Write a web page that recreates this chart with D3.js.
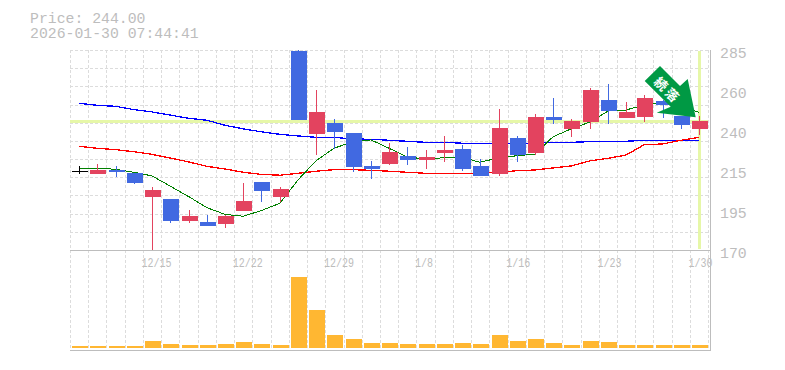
<!DOCTYPE html>
<html>
<head>
<meta charset="utf-8">
<script src="https://cdn.jsdelivr.net/npm/d3@7"></script>
<style>
  html, body { margin: 0; padding: 0; background: #fff; }
  svg { display: block; }
  text { font-family: "Liberation Mono", "DejaVu Sans Mono", monospace; fill: #bdbdbd; }
</style>
</head>
<body>
<div id="chart"></div>
<script>
const dates = ['12/9','12/10','12/11','12/12','12/15','12/16','12/17','12/18','12/19','12/22',
  '12/23','12/24','12/25','12/26','12/29','12/30','1/5','1/6','1/7','1/8',
  '1/9','1/13','1/14','1/15','1/16','1/19','1/20','1/21','1/22','1/23',
  '1/26','1/27','1/28','1/29','1/30'];
const tickDates = ['12/15','12/22','12/29','1/8','1/16','1/23','1/30'];
const priceLabels = ['285','260','240','215','195','170'];

const opens = [215.3,213.7,216,214.3,200.5,199.3,186.7,186.1,185,192.4,209.1,200.5,284.4,236.7,243,237.3,218.3,219.5,224,221.8,225.8,228.1,218.3,213.7,234.4,225.8,246.5,239.6,243.6,256.3,245.9,246.5,255.7,247,239.6];
const closes = [215.3,216,214.8,208.5,204.5,186.7,189.5,183.8,189.5,198.2,203.9,205.1,244.75,249.4,237.9,217.7,216.6,226.4,221.8,223.5,227.5,216.6,212.6,240.2,224.6,246.5,244.8,244.2,262,249.9,249.4,257.4,253.4,241.9,244];
const highs = [218.3,219.4,218.3,214.3,206.2,199.3,193,190.1,190.1,208.5,209.1,206.2,285,262,245.3,237.3,221.2,231.5,229.2,227.5,235.6,230.4,222.3,251.1,235.6,248.2,257.4,245.3,263.2,265.5,255.1,259.1,256,247,247];
const lows = [213.7,213.7,212.2,208,170,185.5,185.5,183.8,182.6,192.4,197.6,197.6,244.75,224.6,228.1,214.9,210.8,218.9,218.9,216.6,220.6,215.4,212.6,212.6,220.6,224.6,242.5,235,239.6,242.5,245.9,243.6,245.9,239.6,236.1];

const maShort = [217,217,216.4,214.7,212.6,206.8,200.6,194.3,190.5,189.4,192.6,196.9,210.3,221.3,228.5,232.3,233.3,228.5,223.6,222.2,223.1,223.3,220.4,223.1,224.2,225.2,235.1,239.6,243.6,249.9,250.5,253.4,255.1,252.8,249.2];
const maMid = [229.6,228.5,227.7,226.5,225,222.9,220.6,218.1,216.6,214.7,213.5,213,214.1,215.3,216.2,216.2,215.8,215.3,214.7,214.1,214.1,214.1,214.1,214.7,215.6,216,217.2,218.3,221.3,222.7,224.6,230.5,231,233.1,234.8];
const maLong = [254.4,253.2,252.6,250.7,249.4,247.6,245.7,244.6,241.7,239.7,238,236.5,235.6,234.8,234.8,233.8,233.7,233.1,232.5,231.9,231.9,231.4,231.4,231.4,231.4,231.4,231.9,231.9,232.3,232.5,232.5,233.1,233.1,233.1,233.1];

const volumes = [2,2,2,2,7,4,3,3,4,6,4,3,71,38,13,9,5,5,4,4,4,5,4,13,7,9,5,3,7,6,3,3,3,3,3];

const lastPrice = 244;

const width = 785;
const height = 370;
const plot = { left: 70, right: 710, top: 50, bottom: 250, volTop: 277, volBottom: 348, volAxis: 350 };
const red = '#e3435f';
const blue = '#4169e1';
const lime = '#e6f7a8';
const gridColor = '#dcdcdc';
const axisColor = '#bdbdbd';

const svg = d3.select('#chart')
  .append('svg')
  .attr('width', width)
  .attr('height', height);

const x = d3.scaleBand()
  .domain(dates)
  .range([plot.left, 708.2]);

const y = d3.scaleLinear()
  .domain([170, 285])
  .range([plot.bottom, plot.top]);

const yVol = d3.scaleLinear()
  .domain([0, d3.max(volumes)])
  .range([plot.volBottom, plot.volTop]);

const yLabels = d3.scalePoint()
  .domain(priceLabels)
  .range([plot.top, plot.bottom]);

const mid = d => Math.round(x(d) + x.bandwidth() / 2);

// title
svg.append('text').attr('x', 30).attr('y', 23).style('font-size', '14.8px').text('Price: 244.00');
svg.append('text').attr('x', 30).attr('y', 38).style('font-size', '14.8px').text('2026-01-30 07:44:41');

// grid
const grid = svg.append('g')
  .attr('stroke', gridColor)
  .attr('stroke-dasharray', '3,2')
  .attr('shape-rendering', 'crispEdges');

d3.range(12).forEach(i => {
  const gy = Math.round(plot.top + i * (plot.bottom - plot.top) / 11);
  grid.append('line').attr('x1', plot.left).attr('x2', plot.right).attr('y1', gy + 0.5).attr('y2', gy + 0.5);
});

dates.concat(['end']).forEach((d, i) => {
  const gx = Math.round(plot.left + i * x.step()) + 0.5;
  grid.append('line').attr('x1', gx).attr('x2', gx).attr('y1', plot.top).attr('y2', plot.volAxis);
});

// frame
const frame = svg.append('g').attr('stroke', axisColor).attr('shape-rendering', 'crispEdges');
frame.append('line').attr('x1', plot.left).attr('x2', plot.right).attr('y1', plot.bottom + 0.5).attr('y2', plot.bottom + 0.5).attr('stroke-width', 1.5);
frame.append('line').attr('x1', plot.left).attr('x2', plot.right + 1).attr('y1', plot.volAxis + 0.5).attr('y2', plot.volAxis + 0.5).attr('stroke-width', 1.5);
frame.append('line').attr('x1', plot.right + 0.5).attr('x2', plot.right + 0.5).attr('y1', plot.top).attr('y2', plot.volAxis);

// axes
const yAxis = svg.append('g')
  .attr('transform', `translate(${plot.right}, 0)`)
  .call(d3.axisRight(yLabels).tickSize(0).tickPadding(10));
yAxis.select('.domain').remove();
yAxis.selectAll('text').attr('dy', 7.5).style('font-size', '14.8px').attr('fill', null);

const xAxis = svg.append('g')
  .attr('transform', `translate(0, ${plot.bottom})`)
  .call(d3.axisBottom(x).tickValues(tickDates).tickSize(0).tickPadding(0));
xAxis.select('.domain').remove();
xAxis.selectAll('text')
  .attr('dy', null)
  .attr('x', -10.5)
  .attr('y', 16.5)
  .attr('fill', null)
  .attr('text-anchor', 'start')
  .style('font-size', '13px')
  .attr('textLength', d => d.length * 6)
  .attr('lengthAdjust', 'spacingAndGlyphs');

// current price guides
const guide = svg.append('g').attr('stroke', lime).attr('stroke-width', 3).attr('shape-rendering', 'crispEdges');
guide.append('line').attr('x1', plot.left).attr('x2', 708).attr('y1', Math.round(y(lastPrice)) + 0.5).attr('y2', Math.round(y(lastPrice)) + 0.5);
guide.append('line').attr('x1', mid(dates[34]) + 0.5).attr('x2', mid(dates[34]) + 0.5).attr('y1', 51).attr('y2', 249);

// moving averages
const maLine = d3.line()
  .x((v, i) => mid(dates[i]))
  .y(v => y(v));

[[maLong, '#0000ff', 1.3], [maMid, '#ff0000', 1.3], [maShort, '#008000', 1]].forEach(([values, color, w]) => {
  svg.append('path')
    .attr('d', maLine(values))
    .attr('fill', 'none')
    .attr('stroke', color)
    .attr('stroke-width', w)
    .attr('shape-rendering', 'crispEdges');
});

// candles
const candleColor = i => closes[i] > opens[i] ? red : closes[i] < opens[i] ? blue : '#000';

const candles = svg.append('g').attr('shape-rendering', 'crispEdges');

candles.selectAll('.wick')
  .data(dates)
  .enter()
  .append('line')
  .attr('class', 'wick')
  .attr('x1', d => mid(d) + 0.5)
  .attr('x2', d => mid(d) + 0.5)
  .attr('y1', (d, i) => y(highs[i]))
  .attr('y2', (d, i) => y(lows[i]))
  .attr('stroke', (d, i) => candleColor(i));

candles.selectAll('.body')
  .data(dates)
  .enter()
  .append('rect')
  .attr('class', 'body')
  .attr('x', d => mid(d) - 7)
  .attr('width', 16)
  .attr('y', (d, i) => y(Math.max(opens[i], closes[i])))
  .attr('height', (d, i) => Math.max(1, Math.abs(y(opens[i]) - y(closes[i]))))
  .attr('fill', (d, i) => candleColor(i));

// volume
svg.selectAll('.vol')
  .data(dates)
  .enter()
  .append('rect')
  .attr('class', 'vol')
  .attr('x', d => mid(d) - 7)
  .attr('width', 16)
  .attr('y', (d, i) => yVol(volumes[i]))
  .attr('height', (d, i) => plot.volBottom - yVol(volumes[i]))
  .attr('fill', '#ffb732')
  .attr('shape-rendering', 'crispEdges');

// signal arrow
const arrow = [[660, 66], [644.7, 81], [670.7, 106.7], [656.7, 112.7], [695.7, 117.3], [687.7, 79], [680, 86]];
svg.append('path')
  .attr('d', d3.line()(arrow) + 'Z')
  .attr('fill', '#009944');

[['続', 661, 84], ['落', 672, 95]].forEach(([ch, cx, cy]) => {
  svg.append('text')
    .attr('transform', `translate(${cx}, ${cy}) rotate(45)`)
    .attr('text-anchor', 'middle')
    .attr('dy', '0.36em')
    .style('font-family', '"Noto Sans CJK JP"')
    .style('font-size', '13px')
    .style('font-weight', 'bold')
    .style('fill', '#fff')
    .text(ch);
});
</script>
</body>
</html>
